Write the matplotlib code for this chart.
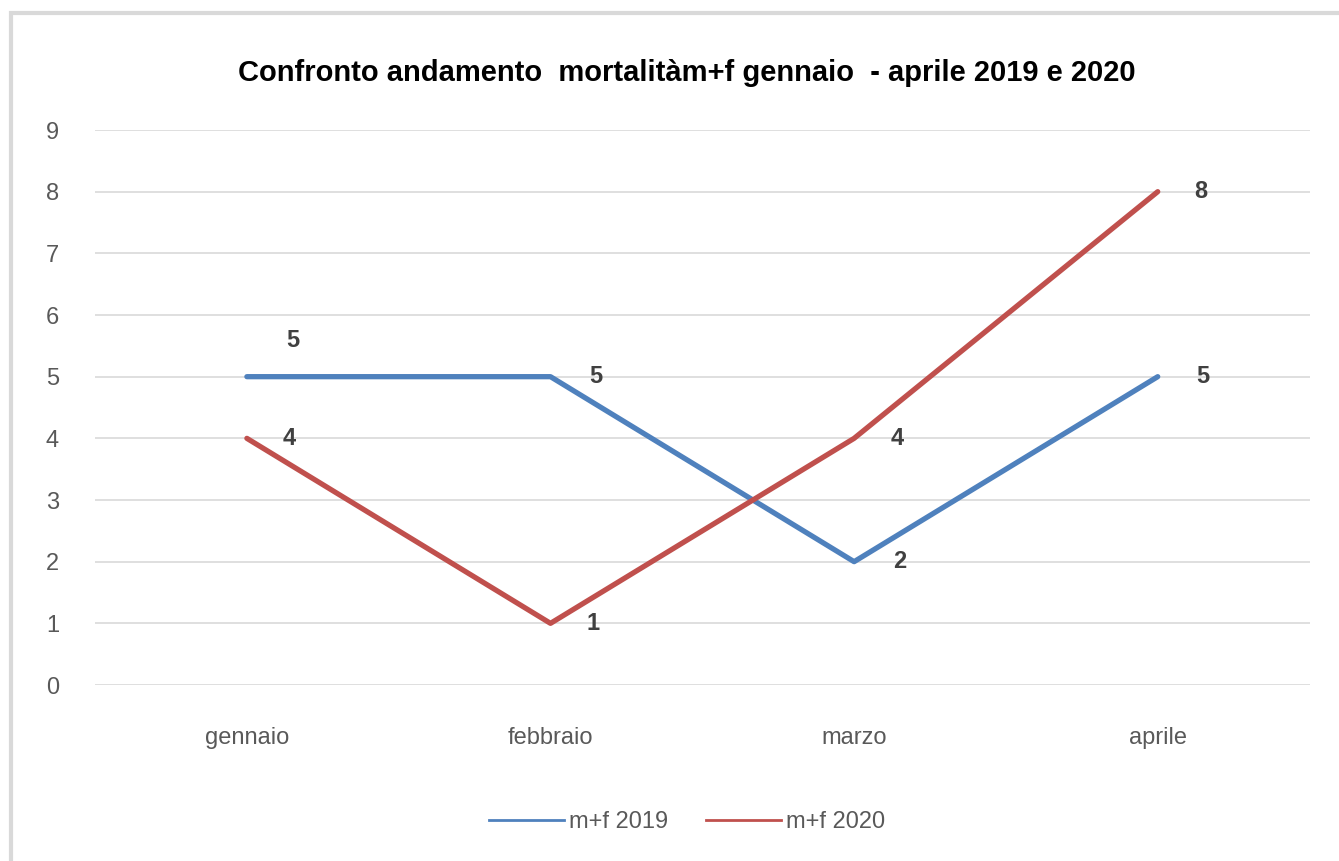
import matplotlib
matplotlib.use("Agg")
import matplotlib.pyplot as plt
from matplotlib import patches as mp
from matplotlib.lines import Line2D

mesi = ["gennaio", "febbraio", "marzo", "aprile"]
mf_2019 = [5, 5, 2, 5]
mf_2020 = [4, 1, 4, 8]
serie = ["m+f 2019", "m+f 2020"]
titolo = "Confronto andamento  mortalitàm+f gennaio  - aprile 2019 e 2020"

blu = "#4F81BD"
rosso = "#C0504D"
grigio = "#595959"

plt.rcParams['font.family'] = ['Liberation Sans Narrow', 'Liberation Sans', 'DejaVu Sans']

fig = plt.figure(figsize=(13.39, 8.61), dpi=100)
ax = fig.add_axes([0.071, 0.2044, 0.907, 0.6446])

# cornice grigia del grafico
fig.patches.append(mp.Rectangle((0.008, -0.1), 1.2, 1.085, transform=fig.transFigure,
                                fill=False, edgecolor="#D9D9D9", linewidth=3))

x = range(len(mesi))
ax.plot(x, mf_2019, color=blu, linewidth=3.8, solid_capstyle='round')
ax.plot(x, mf_2020, color=rosso, linewidth=3.8, solid_capstyle='round')

# etichette dati
for i, v in enumerate(mf_2019):
    dy = 26 if i == 0 else 0
    ax.annotate(str(v), (i, v), xytext=(28, dy), textcoords='offset points',
                ha='left', va='center', fontsize=17, fontweight='bold', color="#404040")
for i, v in enumerate(mf_2020):
    ax.annotate(str(v), (i, v), xytext=(26, 0), textcoords='offset points',
                ha='left', va='center', fontsize=17, fontweight='bold', color="#404040")

ax.set_xlim(-0.5, len(mesi) - 0.5)
ax.set_ylim(0, 9)
ax.set_yticks(range(0, 10))
ax.set_xticks(list(x))
ax.set_xticklabels(mesi)
ax.grid(axis='y', color="#D9D9D9", linewidth=1.2)
ax.set_axisbelow(True)
for s in ax.spines.values():
    s.set_visible(False)
ax.tick_params(axis='both', length=0, labelsize=17, labelcolor=grigio)
ax.tick_params(axis='y', pad=26)
ax.tick_params(axis='x', pad=30)

fig.text(0.513, 0.915, titolo, ha='center', va='center', fontsize=21,
         fontweight='bold', color="#000000")

maniglie = [Line2D([], [], color=blu, linewidth=2), Line2D([], [], color=rosso, linewidth=2)]
fig.legend(maniglie, serie, loc='center', bbox_to_anchor=(0.513, 0.045), ncol=2,
           frameon=False, fontsize=17, labelcolor=grigio, handlelength=3.2,
           columnspacing=1.6, handletextpad=0.2)

fig.savefig("out.png", dpi=100, facecolor='white')
